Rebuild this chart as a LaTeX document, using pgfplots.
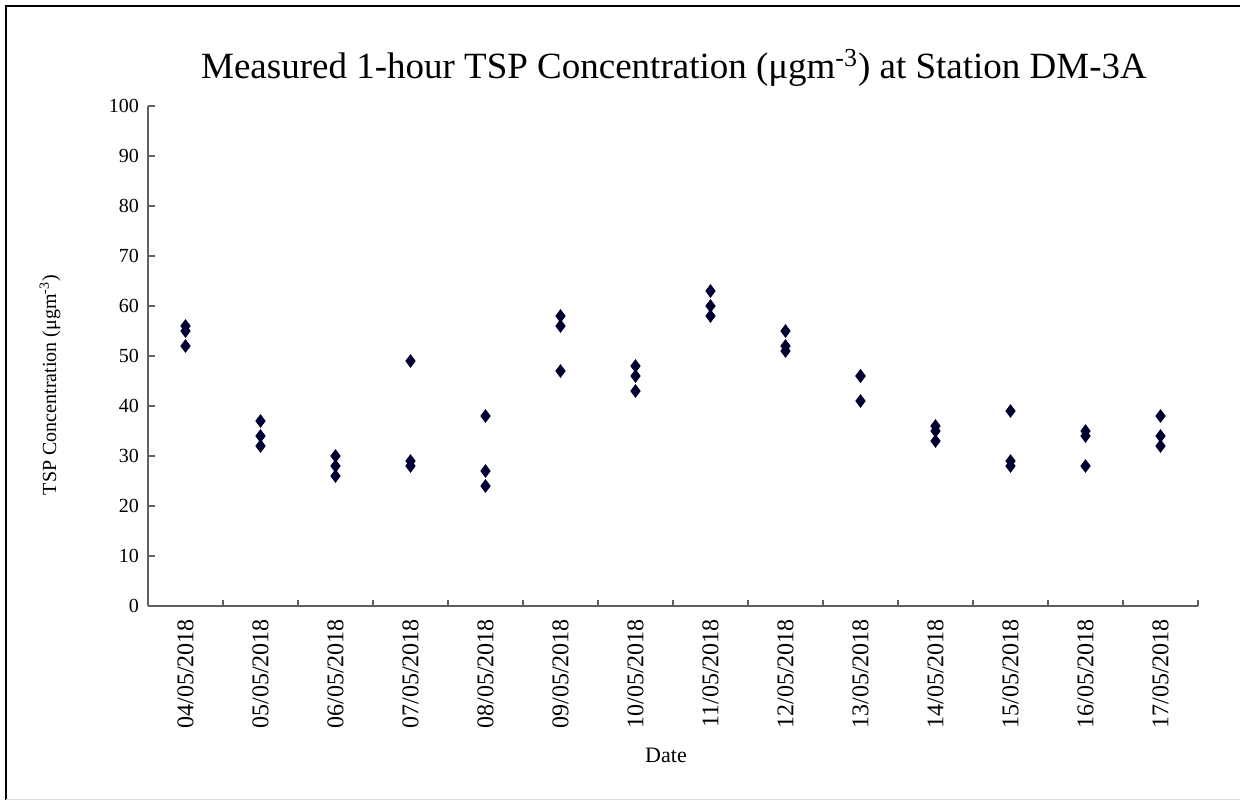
\documentclass[border=0pt]{standalone}
\usepackage{fontspec}
\setmainfont{Liberation Serif}
\usepackage{pgfplots}
\pgfplotsset{compat=1.18}
\definecolor{axisgray}{RGB}{96,96,96}
\definecolor{markc}{RGB}{0,0,48}
\begin{document}
\begin{tikzpicture}[x=1pt,y=1pt]
\useasboundingbox (0,0) rectangle (620,400);
\draw[black, line width=0.8pt] (3,0) -- (3,397) -- (620,397);
\draw[black!15, line width=0.5pt] (3,0.3) -- (620,0.3);
\begin{axis}[
  at={(74pt,97pt)}, anchor=south west,
  scale only axis, width=525pt, height=250pt,
  xmin=-0.5, xmax=13.5, ymin=0, ymax=100,
  axis x line*=bottom, axis y line*=left,
  axis line style={draw=axisgray, line width=0.7pt},
  ytick={0,10,...,100},
  xtick={0,...,13},
  xticklabels={04/05/2018,05/05/2018,06/05/2018,07/05/2018,08/05/2018,09/05/2018,10/05/2018,11/05/2018,12/05/2018,13/05/2018,14/05/2018,15/05/2018,16/05/2018,17/05/2018},
  minor xtick={-0.5,0.5,...,13.5},
  major x tick style={draw=none},
  minor x tick style={draw=axisgray, line width=0.6pt},
  major y tick style={draw=axisgray, line width=0.6pt},
  major tick length=3.5pt, minor tick length=3pt,
  tick align=inside,
  /pgf/number format/assume math mode=true,
  yticklabel style={font=\fontsize{10}{12}\selectfont, xshift=-1pt},
  xticklabel style={rotate=90, anchor=east, font=\fontsize{12}{14}\selectfont},
  xticklabel shift=3pt,
  clip=false,
]
\addplot[only marks, mark=diamond*, mark size=3.1pt, mark options={fill=markc, draw=markc}] coordinates {
(0,56) (0,55) (0,52)
(1,37) (1,34) (1,32)
(2,30) (2,28) (2,26)
(3,49) (3,29) (3,28)
(4,38) (4,27) (4,24)
(5,58) (5,56) (5,47)
(6,48) (6,46) (6,43)
(7,63) (7,60) (7,58)
(8,55) (8,52) (8,51)
(9,46) (9,46) (9,41)
(10,36) (10,35) (10,33)
(11,39) (11,29) (11,28)
(12,35) (12,34) (12,28)
(13,38) (13,34) (13,32)
};
\end{axis}
\node[font=\fontsize{18.5}{22}\selectfont] at (337,366) {Measured 1-hour TSP Concentration (μgm\textsuperscript{-3}) at Station DM-3A};
\node[rotate=90, font=\fontsize{10}{12}\selectfont] at (25,207.5) {TSP Concentration (μgm\textsuperscript{-3})};
\node[font=\fontsize{11}{13}\selectfont] at (333,22.5) {Date};
\end{tikzpicture}
\end{document}
